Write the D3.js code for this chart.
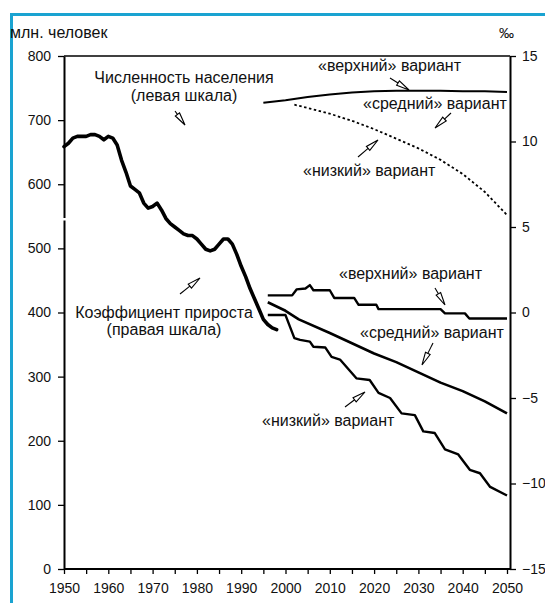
<!DOCTYPE html>
<html><head><meta charset="utf-8">
<script src="https://cdn.jsdelivr.net/npm/d3@7"></script>
<style>
html,body{margin:0;padding:0;background:#fff;}
svg{display:block;font-family:"Liberation Sans",Arial,sans-serif;}
</style></head>
<body>
<svg id="c" width="545" height="603"></svg>
<script>
// ---- data ----
const yearTicks = [1950,1955,1960,1965,1970,1975,1980,1985,1990,1995,2000,2005,2010,2015,2020,2025,2030,2035,2040,2045,2050];
const leftTicks = [0,100,200,300,400,500,600,700,800];
const rightTicks = [-15,-10,-5,0,5,10,15];

// growth rate, historic (‰, right scale)
const rateHistYears = [1950,1951,1952,1953,1954,1955,1956,1957,1958,1959,1960,1961,1962,1963,1964,1965,1966,1967,1968,1969,1970,1971,1972,1973,1974,1975,1976,1977,1978,1979,1980,1981,1982,1983,1984,1985,1986,1987,1988,1989,1990,1991,1992,1993,1994,1995,1996,1997,1998];
const rateHist = [9.7,9.9,10.2,10.3,10.3,10.3,10.4,10.4,10.3,10.1,10.3,10.2,9.8,8.9,8.2,7.4,7.2,7.0,6.4,6.1,6.2,6.4,6.0,5.5,5.2,5.0,4.8,4.6,4.5,4.5,4.3,4.0,3.7,3.6,3.7,4.0,4.3,4.3,4.0,3.4,2.7,2.1,1.4,0.8,0.2,-0.4,-0.7,-0.9,-1.0];

// growth rate projections (‰)
const rateHighYears = [1996,2001.5,2002.5,2004.5,2005.5,2006.3,2010,2011,2015.5,2016.5,2020.5,2021,2035,2036,2040.5,2041.5,2050];
const rateHigh = [1.0,1.0,1.35,1.4,1.6,1.3,1.3,0.85,0.85,0.45,0.45,0.2,0.2,-0.05,-0.05,-0.35,-0.35];
const rateMidYears = [1996,2000,2003,2010,2015,2020,2025,2030,2035,2040,2045,2050];
const rateMid = [0.6,0.1,-0.4,-1.2,-1.8,-2.4,-2.9,-3.5,-4.1,-4.6,-5.2,-5.9];
const rateLowYears = [1996,2000,2002,2003.3,2005.5,2006.3,2009,2010.4,2012.3,2016,2019,2021,2023.6,2026.2,2029.2,2031.1,2033.7,2036,2039,2041.6,2043.9,2046.2,2050];
const rateLow = [-0.15,-0.15,-1.5,-1.6,-1.7,-2.0,-2.05,-2.6,-2.75,-3.85,-3.95,-4.7,-5.0,-5.9,-6.0,-6.95,-7.05,-8.0,-8.3,-9.2,-9.4,-10.2,-10.7];

// population projections (million, left scale)
const popHighYears = [1995,2000,2005,2010,2015,2020,2025,2030,2035,2040,2045,2050];
const popHigh = [727,731,736,740,743,745,746,746,746,745,745,744];
const popLowYears = [2002,2005,2010,2015,2020,2025,2030,2035,2040,2045,2050];
const popLow = [724,719,710,699,686,671,656,638,616,588,552];

// ---- layout ----
const svg = d3.select("#c");
const FONT = 14;
const x = d3.scaleLinear().domain([1950,2050]).range([64,507]);
const yL = d3.scaleLinear().domain([0,800]).range([569,56]);
const yR = d3.scaleLinear().domain([-15,15]).range([569,56]);
const xRight = 510;

// frame border (cyan)
svg.append("path").attr("d","M11.5,603 L11.5,14.5 L545,14.5")
  .attr("fill","none").attr("stroke","#1aa3d1").attr("stroke-width",3);

// axes
const gL = svg.append("g").attr("transform","translate(64,0)")
  .call(d3.axisLeft(yL).tickValues(leftTicks).tickSize(6).tickSizeOuter(0).tickPadding(7));
const gR = svg.append("g").attr("transform",`translate(${xRight},0)`)
  .call(d3.axisRight(yR).tickValues(rightTicks).tickSize(6).tickSizeOuter(0).tickPadding(6));
const gB = svg.append("g").attr("transform","translate(0,569)")
  .call(d3.axisBottom(x).tickValues(yearTicks).tickSize(5).tickSizeOuter(0).tickPadding(9)
    .tickFormat(d => d % 10 === 0 ? d : ""));
[gL,gR,gB].forEach(g=>{
  g.selectAll("text").attr("font-size",FONT).attr("fill","#111").attr("font-family","Liberation Sans, Arial, sans-serif");
  g.selectAll("line").attr("stroke","#000").attr("stroke-width",1.3);
  g.select(".domain").attr("stroke","#000").attr("stroke-width",2);
});
gB.select(".domain").attr("d","M64,0H"+xRight);
// top frame line
svg.append("line").attr("x1",64).attr("x2",xRight).attr("y1",56).attr("y2",56)
  .attr("stroke","#000").attr("stroke-width",1.6);
// small gap in left axis (as in reference)
svg.append("rect").attr("x",61).attr("y",218).attr("width",5).attr("height",2.5).attr("fill","#fff");

// header labels
svg.append("text").attr("x",10).attr("y",38).attr("font-size",16).attr("fill","#111").text("млн. человек");
svg.append("text").attr("x",499).attr("y",38).attr("font-size",15).attr("fill","#111").text("‰");

// lines
const line = (xs, ys, sc) => d3.line().x((d,i)=>x(xs[i])).y(d=>sc(d))(ys);

svg.append("path").attr("d",line(rateHistYears,rateHist,yR)).attr("fill","none")
  .attr("stroke","#000").attr("stroke-width",3.6).attr("stroke-linejoin","round").attr("stroke-linecap","round");
svg.append("path").attr("d",line(rateHighYears,rateHigh,yR)).attr("fill","none")
  .attr("stroke","#000").attr("stroke-width",2.4).attr("stroke-linejoin","round");
svg.append("path").attr("d",line(rateMidYears,rateMid,yR)).attr("fill","none")
  .attr("stroke","#000").attr("stroke-width",2.6).attr("stroke-linejoin","round");
svg.append("path").attr("d",line(rateLowYears,rateLow,yR)).attr("fill","none")
  .attr("stroke","#000").attr("stroke-width",2.4).attr("stroke-linejoin","round");

svg.append("path").attr("d",line(popHighYears,popHigh,yL)).attr("fill","none")
  .attr("stroke","#000").attr("stroke-width",2);
svg.append("path").attr("d",line(popLowYears,popLow,yL)).attr("fill","none")
  .attr("stroke","#000").attr("stroke-width",1.8).attr("stroke-dasharray","2.5,2.5");

// annotations
function label(tx, ty, str, anchor){
  svg.append("text").attr("x",tx).attr("y",ty).attr("font-size",16).attr("fill","#111")
    .attr("text-anchor",anchor||"start").text(str);
}
function arrow(x1,y1,x2,y2){
  const a = Math.atan2(y2-y1,x2-x1), L=13, W=2.6;
  const bx = x2 - L*Math.cos(a), by = y2 - L*Math.sin(a);
  const px = -Math.sin(a)*W, py = Math.cos(a)*W;
  svg.append("line").attr("x1",x1).attr("y1",y1).attr("x2",bx).attr("y2",by)
    .attr("stroke","#000").attr("stroke-width",1.1);
  svg.append("path").attr("d",`M${x2},${y2}L${bx+px},${by+py}L${bx-px},${by-py}Z`)
    .attr("fill","none").attr("stroke","#000").attr("stroke-width",1.1).attr("stroke-linejoin","miter");
}

label(184,83,"Численность населения","middle");
label(184,101,"(левая шкала)","middle");
arrow(175,111,185,125);

label(318,71,"«верхний» вариант");
arrow(390,78,409,90);
label(363,109,"«средний» вариант");
arrow(451,113,435,128);
label(303,176,"«низкий» вариант");
arrow(358,157,378,140);

label(339,279,"«верхний» вариант");
arrow(435,288,445,305);
label(360,338,"«средний» вариант");
arrow(433,343,422,365);
label(262,426,"«низкий» вариант");
arrow(345,407,365,392);

label(164,318,"Коэффициент прироста","middle");
label(164,335,"(правая шкала)","middle");
arrow(180,294,200,278);
</script>
</body></html>
